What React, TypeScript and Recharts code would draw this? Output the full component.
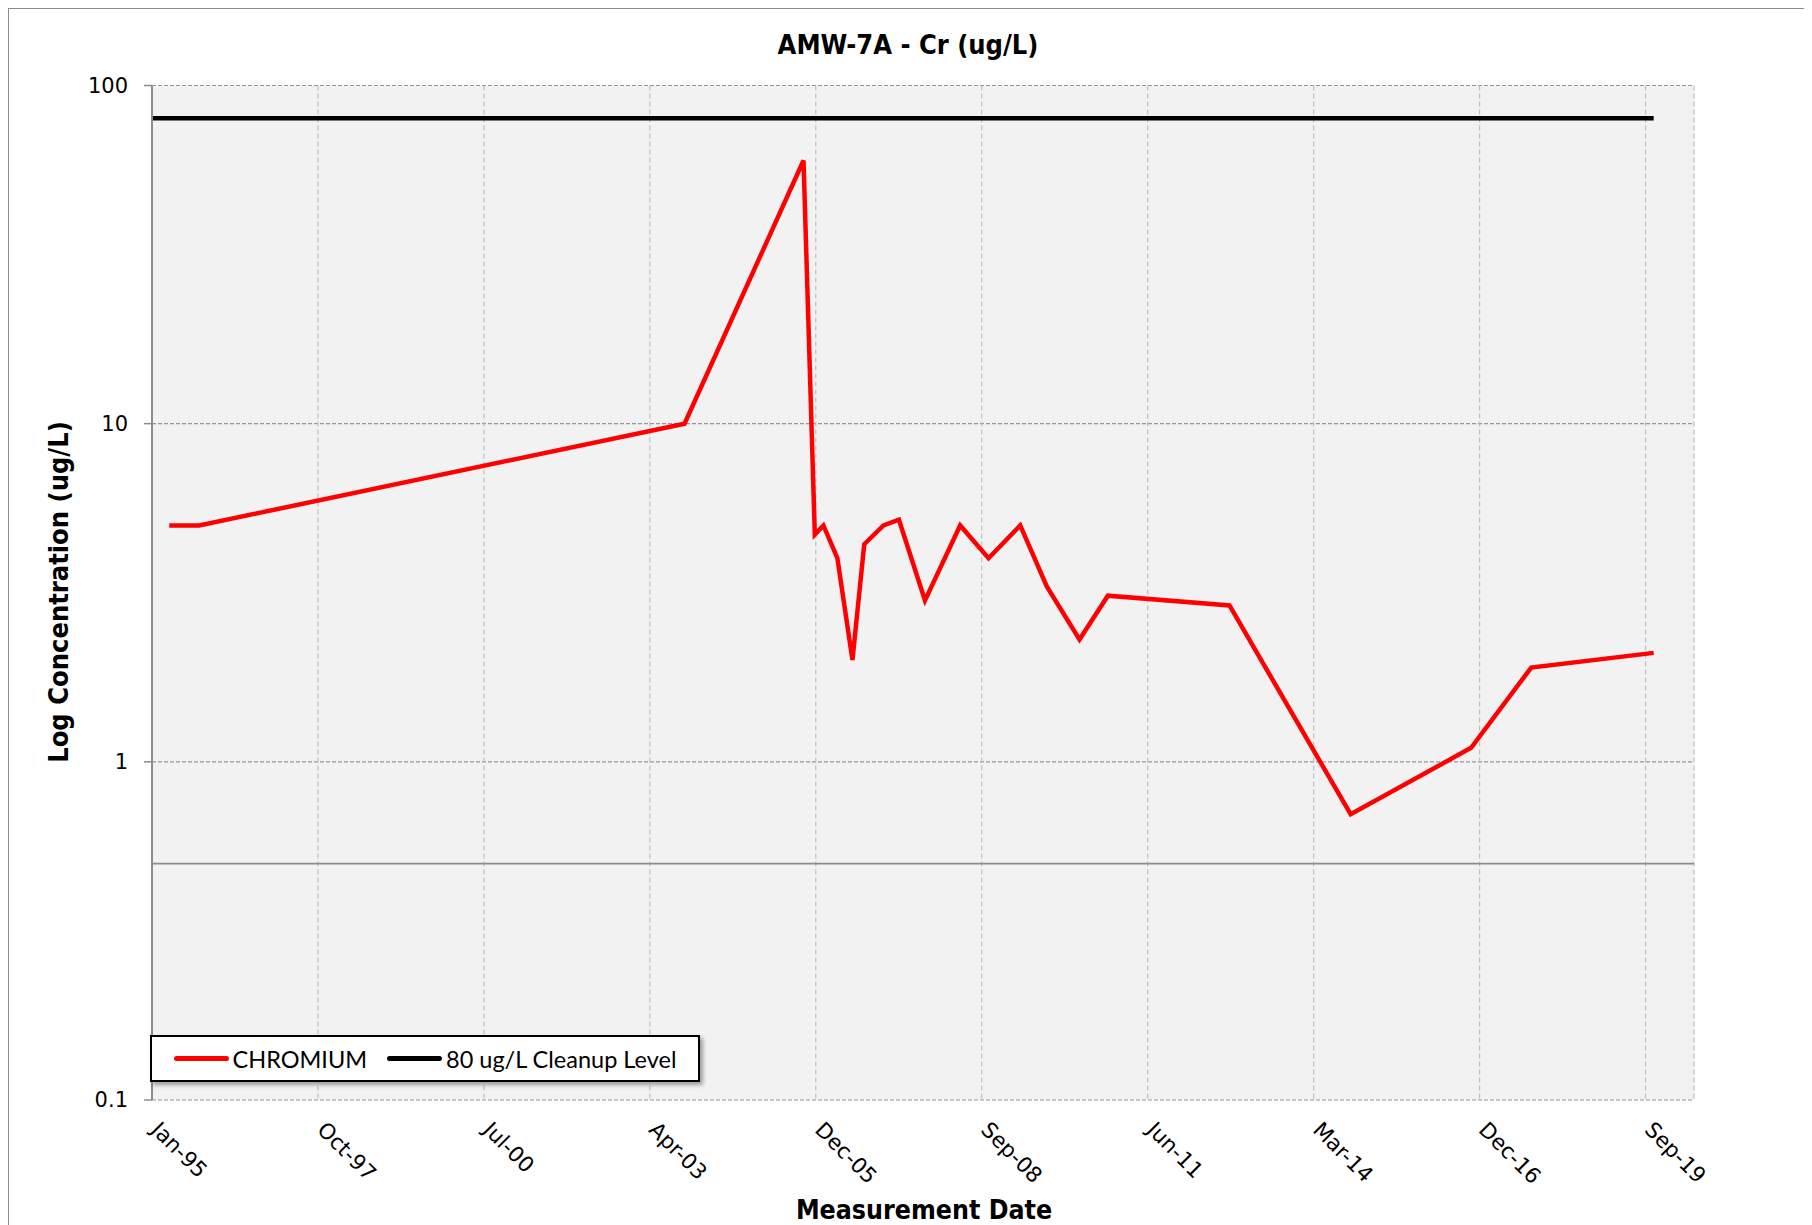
import React from 'react'
import {
  LineChart,
  Line,
  XAxis,
  YAxis,
  CartesianGrid,
  ReferenceLine,
} from 'recharts'

const DAY = 86400000
const MONTHS = ['Jan', 'Feb', 'Mar', 'Apr', 'May', 'Jun', 'Jul', 'Aug', 'Sep', 'Oct', 'Nov', 'Dec']

// sample dates and Cr results (ug/L)
const chromiumDates = [
  '1995-04-27', '1995-10-25', '2003-10-27', '2005-10-13', '2005-12-20',
  '2006-02-10', '2006-05-05', '2006-08-04', '2006-10-14', '2007-02-07',
  '2007-05-11', '2007-10-15', '2008-05-14', '2008-11-01', '2009-05-11',
  '2009-10-18', '2010-05-03', '2010-10-21', '2012-10-23', '2014-10-23',
  '2016-10-18', '2017-10-15', '2019-10-23',
]
const chromiumValues = [
  5, 5, 10, 60, 4.7,
  5, 4, 2, 4.4, 5,
  5.2, 3, 5, 4, 5,
  3.3, 2.3, 3.1, 2.9, 0.7,
  1.1, 1.9, 2.1,
]

const cleanupDates = ['1995-01-13', '2019-10-23']
const cleanupValues = [80, 80]

const lowerLine = 0.5

// x axis: origin, major unit in days, labels
const axisStart = '1995-01-13'
const axisSpanDays = 9292
const majorUnitDays = 1000
const xTickLabels = ['Jan-95', 'Oct-97', 'Jul-00', 'Apr-03', 'Dec-05', 'Sep-08', 'Jun-11', 'Mar-14', 'Dec-16', 'Sep-19']
const yTicks = [0.1, 1, 10, 100]

const toTime = (d: string) => Date.parse(d + 'T00:00:00Z')

const xMin = toTime(axisStart)
const xMax = xMin + axisSpanDays * DAY
const xTicks = xTickLabels.map((_, i) => xMin + i * majorUnitDays * DAY)

const chromium = chromiumDates.map((d, i) => ({ t: toTime(d), v: chromiumValues[i] }))
const cleanup = cleanupDates.map((d, i) => ({ t: toTime(d), v: cleanupValues[i] }))

const fmtDate = (t: number) => {
  const d = new Date(t)
  return MONTHS[d.getUTCMonth()] + '-' + String(d.getUTCFullYear()).slice(2)
}

const series = [
  { name: 'CHROMIUM', color: '#FF0000' },
  { name: '80 ug/L Cleanup Level', color: '#000000' },
]

const XTick = (props: any) => {
  const { x, y, payload } = props
  const tx = x - 2
  const ty = y + 29
  return (
    <text
      x={tx}
      y={ty}
      transform={`rotate(45, ${tx}, ${ty})`}
      textAnchor="start"
      fontSize={21.5}
      fontFamily="DejaVu Sans"
      fill="#000"
    >
      {fmtDate(payload.value)}
    </text>
  )
}

const boldFont = '"DejaVu Sans Condensed", "DejaVu Sans", sans-serif'

export default function App() {
  return (
    <div
      style={{
        position: 'relative',
        width: 1795,
        height: 1230,
        border: '1px solid #8c8c8c',
        background: '#fff',
        overflow: 'hidden',
      }}
    >
      <div
        style={{
          position: 'absolute',
          left: 0,
          width: 1798,
          top: 20,
          textAlign: 'center',
          fontFamily: boldFont,
          fontWeight: 'bold',
          fontSize: 27,
        }}
      >
        AMW-7A - Cr (ug/L)
      </div>
      <div
        style={{
          position: 'absolute',
          left: 49,
          top: 583,
          transform: 'translate(-50%, -50%) rotate(-90deg)',
          whiteSpace: 'nowrap',
          fontFamily: boldFont,
          fontWeight: 'bold',
          fontSize: 27,
        }}
      >
        Log Concentration (ug/L)
      </div>
      <div
        style={{
          position: 'absolute',
          left: 915,
          top: 1200,
          transform: 'translate(-50%, -50%)',
          whiteSpace: 'nowrap',
          fontFamily: boldFont,
          fontWeight: 'bold',
          fontSize: 26.5,
        }}
      >
        Measurement Date
      </div>

      <LineChart
        width={1795}
        height={1210}
        margin={{ top: 76.5, right: 110, left: 43, bottom: 32 }}
      >
        <CartesianGrid
          horizontal
          vertical={false}
          fill="#F2F2F2"
          stroke="#969696"
          strokeDasharray="4 2"
          strokeWidth={1.2}
        />
        <CartesianGrid
          horizontal={false}
          vertical
          stroke="#BFBFBF"
          strokeDasharray="5 3"
          strokeWidth={1.2}
        />
        <XAxis
          dataKey="t"
          type="number"
          domain={[xMin, xMax]}
          ticks={xTicks}
          allowDataOverflow
          axisLine={false}
          tickLine={false}
          tickSize={0}
          tick={<XTick />}
          height={87}
          interval={0}
        />
        <YAxis
          dataKey="v"
          scale="log"
          domain={[0.1, 100]}
          ticks={yTicks}
          allowDataOverflow
          interval={0}
          width={100}
          axisLine={{ stroke: '#8c8c8c', strokeWidth: 2 }}
          tickLine={{ stroke: '#8c8c8c', strokeWidth: 1.5 }}
          tickSize={8}
          tickMargin={16}
          tickFormatter={(v: number) => String(v)}
          tick={{ fontSize: 21, fontFamily: 'DejaVu Sans', fill: '#000' }}
        />
        <ReferenceLine y={lowerLine} stroke="#8c8c8c" strokeWidth={1.8} />
        <Line
          data={cleanup}
          dataKey="v"
          name={series[1].name}
          stroke={series[1].color}
          strokeWidth={4.5}
          dot={false}
          isAnimationActive={false}
        />
        <Line
          data={chromium}
          dataKey="v"
          name={series[0].name}
          stroke={series[0].color}
          strokeWidth={4.5}
          strokeLinejoin="miter"
          dot={false}
          isAnimationActive={false}
        />
      </LineChart>

      <div
        style={{
          position: 'absolute',
          left: 141,
          top: 1026,
          width: 546,
          height: 43,
          border: '2px solid #000',
          background: '#fff',
          boxShadow: '3px 3px 4px rgba(0,0,0,0.35)',
          display: 'flex',
          alignItems: 'center',
          fontFamily: 'Lato, "Open Sans", sans-serif',
          fontSize: 23.5,
        }}
      >
        {series.map((s, i) => (
          <div
            key={s.name}
            style={{
              display: 'flex',
              alignItems: 'center',
              marginLeft: i === 0 ? 21.5 : 0,
              width: i === 0 ? 213.5 : undefined,
            }}
          >
            <div style={{ width: 55, height: 5, borderRadius: 3, background: s.color }} />
            <span style={{ marginLeft: 4 }}>{s.name}</span>
          </div>
        ))}
      </div>
    </div>
  )
}
